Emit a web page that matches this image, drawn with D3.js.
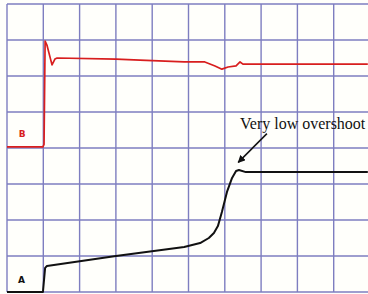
<!DOCTYPE html>
<html>
<head>
<meta charset="utf-8">
<script src="https://cdn.jsdelivr.net/npm/d3@7"></script>
<style>
  html, body { margin: 0; padding: 0; background: #fffffb; }
  svg { display: block; }
</style>
</head>
<body>
<svg id="scope" width="368" height="294"></svg>
<script>
// Scope screen in grid divisions (10 across, 8 up)
const gridCols = d3.range(0, 11);
const gridRows = d3.range(0, 9);

// Trace B (red), division units
const bTime = [0, 0.99, 1.02, 1.05, 1.1, 1.24, 1.32, 1.38, 3.0, 3.66, 4.88, 5.45, 5.73, 5.92, 6.09, 6.31, 6.42, 6.5, 9.94];
const bLevel = [4.03, 4.03, 4.1, 6.97, 6.86, 6.31, 6.47, 6.5, 6.47, 6.44, 6.39, 6.39, 6.28, 6.19, 6.25, 6.28, 6.39, 6.33, 6.33];

// Trace A (black), division units
const aTime = [0, 0.99, 1.05, 1.1, 3.0, 4.88, 5.32, 5.56, 5.7, 5.81, 5.92, 6.06, 6.2, 6.31, 6.39, 6.58, 9.94];
const aLevel = [0, 0, 0.67, 0.72, 1.0, 1.25, 1.36, 1.5, 1.64, 1.83, 2.22, 2.78, 3.17, 3.36, 3.39, 3.33, 3.33];

const traceLabels = ["A", "B"];
const note = "Very low overshoot";

const svg = d3.select("#scope");

const x = d3.scaleLinear().domain([0, 10]).range([7, 370]);
const y = d3.scaleLinear().domain([0, 8]).range([292, 4]);

// grid
const grid = svg.append("g")
  .attr("stroke", "#7e7ec0")
  .attr("stroke-width", 1.4);

grid.selectAll(".v").data(gridCols).join("line")
  .attr("x1", (d) => x(d)).attr("x2", (d) => x(d))
  .attr("y1", y(0)).attr("y2", y(8));

grid.selectAll(".h").data(gridRows).join("line")
  .attr("x1", x(0)).attr("x2", 368)
  .attr("y1", (d) => y(d)).attr("y2", (d) => y(d));

const line = d3.line()
  .x((d) => x(d[0]))
  .y((d) => y(d[1]));

svg.append("path")
  .datum(d3.zip(bTime, bLevel))
  .attr("fill", "none")
  .attr("stroke", "#d81e1e")
  .attr("stroke-width", 1.7)
  .attr("stroke-linejoin", "round")
  .attr("d", line);

svg.append("path")
  .datum(d3.zip(aTime, aLevel))
  .attr("fill", "none")
  .attr("stroke", "#111")
  .attr("stroke-width", 2)
  .attr("stroke-linejoin", "round")
  .attr("d", line);

// trace labels
svg.append("text")
  .attr("x", x(0.4)).attr("y", y(0.24))
  .attr("text-anchor", "middle")
  .attr("font-family", "DejaVu Sans, sans-serif")
  .attr("font-weight", "bold")
  .attr("font-size", 9)
  .attr("fill", "#111")
  .text(traceLabels[0]);

svg.append("text")
  .attr("x", x(0.42)).attr("y", y(4.3))
  .attr("text-anchor", "middle")
  .attr("font-family", "DejaVu Sans, sans-serif")
  .attr("font-weight", "bold")
  .attr("font-size", 9)
  .attr("fill", "#d81e1e")
  .text(traceLabels[1]);

// annotation
svg.append("defs").append("marker")
  .attr("id", "arrow")
  .attr("viewBox", "0 0 10 10")
  .attr("refX", 9).attr("refY", 5)
  .attr("markerWidth", 5).attr("markerHeight", 5)
  .attr("orient", "auto")
  .append("path")
  .attr("d", "M0,0L10,5L0,10z")
  .attr("fill", "#111");

svg.append("line")
  .attr("x1", x(7.16)).attr("y1", y(4.4))
  .attr("x2", x(6.37)).attr("y2", y(3.6))
  .attr("stroke", "#111")
  .attr("stroke-width", 1.5)
  .attr("marker-end", "url(#arrow)");

svg.append("text")
  .attr("x", 240).attr("y", 129)
  .attr("font-family", "Liberation Serif, serif")
  .attr("font-size", 16)
  .attr("fill", "#111")
  .text(note);
</script>
</body>
</html>
